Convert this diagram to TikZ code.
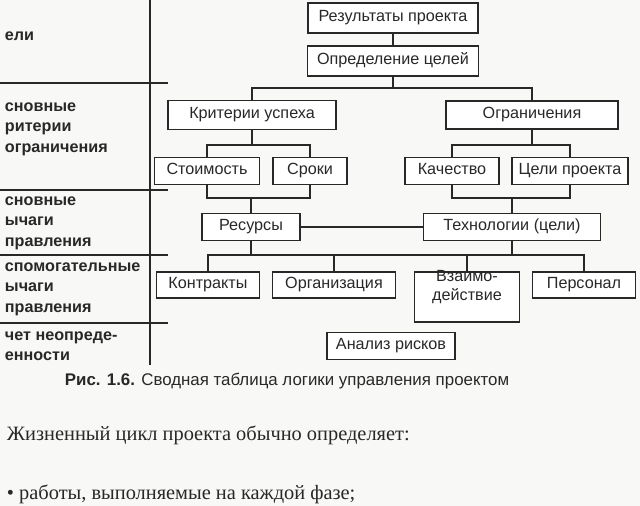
\documentclass[tikz,border=0pt]{standalone}
\usepackage{fontspec}
\setmainfont{Liberation Serif}
\setsansfont{Liberation Sans}
\usetikzlibrary{positioning,calc}
\definecolor{inkgray}{RGB}{40,40,40}
\definecolor{papergray}{RGB}{248,248,246}

\begin{document}
\begin{tikzpicture}[x=0.025cm, y=-0.025cm,
    box/.style={draw=inkgray, thick, fill=white, inner sep=0pt, text height=1.7ex, text depth=.5ex, font=\sffamily\fontsize{11.5}{13.5}\selectfont, text=inkgray, align=center},
    sz/.style 2 args={minimum width=#1*0.025cm, minimum height=#2*0.025cm},
    side/.style={anchor=west, font=\sffamily\bfseries\fontsize{11.5}{14.5}\selectfont, text=inkgray, align=left},
    link/.style={draw=inkgray, thick}]
                % Page
                \fill[papergray] (0,0) rectangle (640,506);
                \useasboundingbox (0,0) rectangle (640,506);
                
                % Left column
                \draw[link] (150,0) -- (150,365);
                \foreach \y in {83,190,255,323} {
                    \draw[link] (0,\y) -- (168,\y);
                }
                \node[side] (lgoal) at (0,36) {ели};
                \node[side] (lcrit) at (0,129) {сновные\\ритерии\\ ограничения};
                \node[side] (lmain) at (0,223) {сновные\\ычаги\\правления};
                \node[side] (laux) at (0,289) {спомогательные\\ычаги\\правления};
                \node[side] (lrisk) at (0,346) {чет неопреде-\\енности};
                
                % Boxes
                \node[box, sz={170}{30}] (results) at (393,18) {Результаты проекта};
                \node[box, sz={171}{30}] (goals) at (393,61) {Определение целей};
                \node[box, sz={168}{29}] (success) at (252,115) {Критерии успеха};
                \node[box, sz={172}{28}] (limits) at (532,115) {Ограничения};
                \node[box, sz={105}{27}] (cost) at (207,171) {Стоимость};
                \node[box, sz={74}{27}] (time) at (310,171) {Сроки};
                \node[box, sz={94}{27}] (quality) at (452,171) {Качество};
                \node[box, sz={116}{27}] (aims) at (570,171) {Цели проекта};
                \node[box, sz={98}{27}] (resources) at (251,227) {Ресурсы};
                \node[box, sz={177}{27}] (tech) at (512,227) {Технологии (цели)};
                \node[box, sz={103}{26}] (contracts) at (208,285) {Контракты};
                \node[box, sz={123}{26}] (org) at (334,285) {Организация};
                \node[box, sz={105}{50}] (interact) at (467,297) {Взаимо-\\действие};
                \node[box, sz={103}{26}] (staff) at (584,285) {Персонал};
                \node[box, sz={128}{27}] (risk) at (391,346) {Анализ рисков};
                
                % Connectors
                \draw[link] (results) -- (goals);
                \draw[link] (goals.south) -- (393,88) -| (success.north);
                \draw[link] (393,88) -| (limits.north);
                \draw[link] (success.south) -- (252,145) -| (cost.north);
                \draw[link] (252,145) -| (time.north);
                \draw[link] (limits.south) -- (532,145) -| (quality.north);
                \draw[link] (532,145) -| (aims.north);
                \draw[link] (cost.south) |- (251,198) -| (time.south);
                \draw[link] (251,198) -- (resources.north);
                \draw[link] (quality.south) |- (512,198) -| (aims.south);
                \draw[link] (512,198) -- (tech.north);
                \draw[link] (resources) -- (tech);
                \draw[link] (resources.south) -- (251,255);
                \draw[link] (tech.south) -- (512,255);
                \draw[link] (contracts.north) -- (208,255) -| (staff.north);
                \draw[link] (org.north) -- (334,255);
                \draw[link] (interact.north) -- (467,255);
                
                % Caption and text
                \node[anchor=west, font=\sffamily\fontsize{12}{14}\selectfont, text=inkgray] (caption) at (60,381) {\textbf{Рис. 1.6.} Сводная таблица логики управления проектом};
                \node[anchor=west, font=\fontsize{14.5}{17}\selectfont, text=inkgray] (body) at (2,435) {Жизненный цикл проекта обычно определяет:};
                \node[anchor=west, font=\fontsize{14.5}{17}\selectfont, text=inkgray] (bullet) at (2,494) {• работы, выполняемые на каждой фазе;};
            \end{tikzpicture}
\end{document}
